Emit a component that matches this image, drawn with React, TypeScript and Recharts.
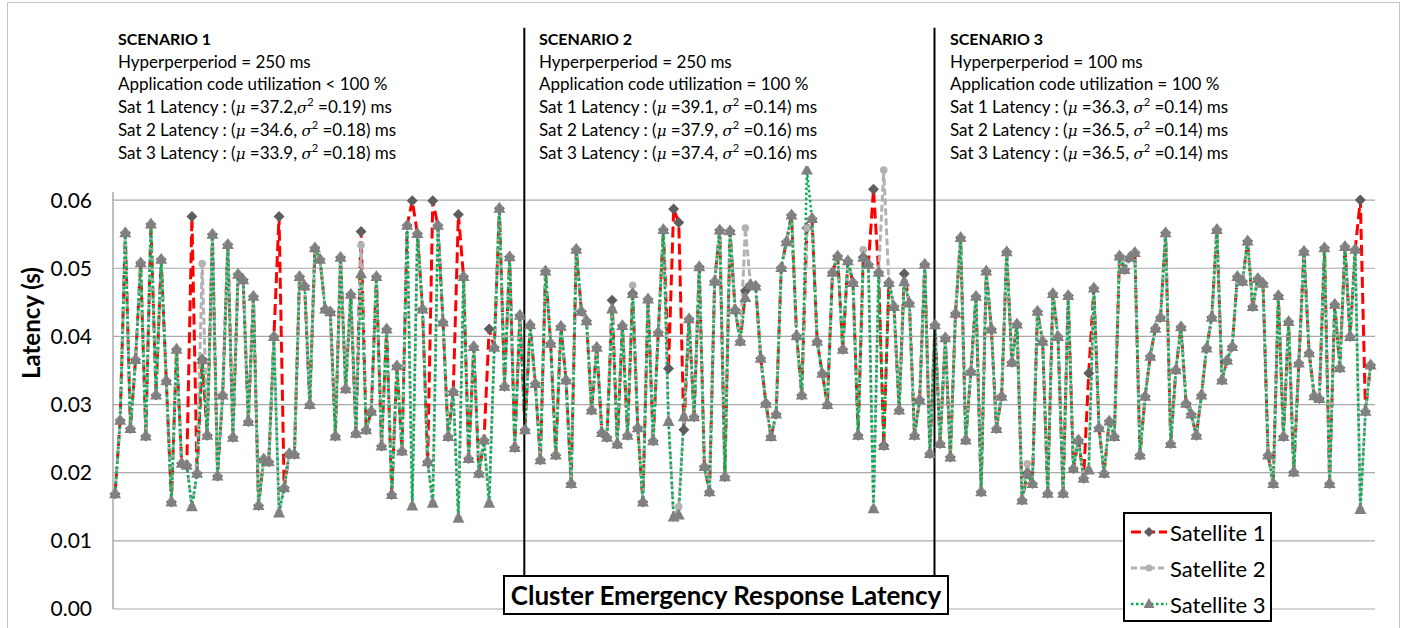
import React from 'react';
import { LineChart, Line, XAxis, YAxis, CartesianGrid, ReferenceLine } from 'recharts';

// latency samples (s), one per emergency event; scenarios split at ~80 / ~160
const sat3 = [
  0.0169, 0.0277, 0.0552, 0.0265, 0.0366, 0.0508, 0.0254, 0.0565, 0.0314, 0.0513,
  0.0335, 0.0157, 0.0381, 0.0214, 0.0211, 0.0150, 0.0199, 0.0366, 0.0255, 0.0550,
  0.0195, 0.0314, 0.0535, 0.0252, 0.0491, 0.0483, 0.0275, 0.0459, 0.0152, 0.0220,
  0.0216, 0.0400, 0.0141, 0.0178, 0.0228, 0.0227, 0.0488, 0.0474, 0.0300, 0.0530,
  0.0513, 0.0440, 0.0436, 0.0254, 0.0516, 0.0323, 0.0462, 0.0258, 0.0492, 0.0263,
  0.0290, 0.0488, 0.0239, 0.0411, 0.0168, 0.0357, 0.0232, 0.0563, 0.0151, 0.0551,
  0.0440, 0.0216, 0.0155, 0.0563, 0.0421, 0.0253, 0.0319, 0.0133, 0.0488, 0.0221,
  0.0385, 0.0199, 0.0248, 0.0155, 0.0384, 0.0588, 0.0327, 0.0517, 0.0237, 0.0431,
  0.0263, 0.0417, 0.0331, 0.0219, 0.0496, 0.0390, 0.0226, 0.0415, 0.0336, 0.0184,
  0.0528, 0.0437, 0.0423, 0.0292, 0.0384, 0.0259, 0.0252, 0.0440, 0.0242, 0.0416,
  0.0255, 0.0463, 0.0266, 0.0157, 0.0455, 0.0247, 0.0406, 0.0557, 0.0275, 0.0135,
  0.0138, 0.0282, 0.0426, 0.0282, 0.0502, 0.0209, 0.0172, 0.0481, 0.0556, 0.0194,
  0.0555, 0.0439, 0.0393, 0.0457, 0.0476, 0.0474, 0.0368, 0.0302, 0.0253, 0.0286,
  0.0501, 0.0539, 0.0578, 0.0401, 0.0314, 0.0644, 0.0573, 0.0393, 0.0346, 0.0300,
  0.0494, 0.0518, 0.0381, 0.0511, 0.0479, 0.0255, 0.0516, 0.0506, 0.0147, 0.0494,
  0.0240, 0.0479, 0.0444, 0.0292, 0.0480, 0.0449, 0.0255, 0.0307, 0.0506, 0.0228,
  0.0417, 0.0243, 0.0398, 0.0223, 0.0434, 0.0545, 0.0248, 0.0349, 0.0459, 0.0172,
  0.0496, 0.0411, 0.0265, 0.0312, 0.0524, 0.0362, 0.0418, 0.0160, 0.0199, 0.0184,
  0.0437, 0.0393, 0.0170, 0.0463, 0.0400, 0.0170, 0.0460, 0.0206, 0.0248, 0.0192,
  0.0204, 0.0471, 0.0266, 0.0199, 0.0276, 0.0253, 0.0518, 0.0498, 0.0516, 0.0523,
  0.0226, 0.0312, 0.0371, 0.0412, 0.0428, 0.0552, 0.0243, 0.0351, 0.0414, 0.0302,
  0.0286, 0.0255, 0.0314, 0.0383, 0.0428, 0.0557, 0.0336, 0.0365, 0.0385, 0.0488,
  0.0481, 0.0540, 0.0444, 0.0485, 0.0478, 0.0226, 0.0184, 0.0460, 0.0253, 0.0422,
  0.0201, 0.0361, 0.0525, 0.0376, 0.0313, 0.0309, 0.0530, 0.0184, 0.0447, 0.0354,
  0.0532, 0.0400, 0.0528, 0.0146, 0.0290, 0.0358,
];

const sat1 = [
  0.0169, 0.0277, 0.0552, 0.0265, 0.0366, 0.0508, 0.0254, 0.0565, 0.0314, 0.0513,
  0.0335, 0.0157, 0.0381, 0.0214, 0.0211, 0.0576, 0.0199, 0.0366, 0.0255, 0.0550,
  0.0195, 0.0314, 0.0535, 0.0252, 0.0491, 0.0483, 0.0275, 0.0459, 0.0152, 0.0220,
  0.0216, 0.0400, 0.0576, 0.0178, 0.0228, 0.0227, 0.0488, 0.0474, 0.0300, 0.0530,
  0.0513, 0.0440, 0.0436, 0.0254, 0.0516, 0.0323, 0.0462, 0.0258, 0.0554, 0.0263,
  0.0290, 0.0488, 0.0239, 0.0411, 0.0168, 0.0357, 0.0232, 0.0563, 0.0599, 0.0551,
  0.0440, 0.0216, 0.0599, 0.0563, 0.0421, 0.0253, 0.0319, 0.0579, 0.0488, 0.0221,
  0.0385, 0.0199, 0.0248, 0.0411, 0.0384, 0.0588, 0.0327, 0.0517, 0.0237, 0.0431,
  0.0263, 0.0417, 0.0331, 0.0219, 0.0496, 0.0390, 0.0226, 0.0415, 0.0336, 0.0184,
  0.0528, 0.0437, 0.0423, 0.0292, 0.0384, 0.0259, 0.0252, 0.0453, 0.0242, 0.0416,
  0.0255, 0.0463, 0.0266, 0.0157, 0.0455, 0.0247, 0.0406, 0.0557, 0.0353, 0.0587,
  0.0567, 0.0263, 0.0426, 0.0282, 0.0502, 0.0209, 0.0172, 0.0481, 0.0556, 0.0194,
  0.0555, 0.0439, 0.0393, 0.0467, 0.0476, 0.0474, 0.0368, 0.0302, 0.0253, 0.0286,
  0.0501, 0.0539, 0.0578, 0.0401, 0.0314, 0.0559, 0.0573, 0.0393, 0.0346, 0.0300,
  0.0494, 0.0518, 0.0381, 0.0511, 0.0479, 0.0255, 0.0516, 0.0506, 0.0616, 0.0494,
  0.0240, 0.0479, 0.0444, 0.0292, 0.0492, 0.0449, 0.0255, 0.0307, 0.0506, 0.0228,
  0.0417, 0.0243, 0.0398, 0.0223, 0.0434, 0.0545, 0.0248, 0.0349, 0.0459, 0.0172,
  0.0496, 0.0411, 0.0265, 0.0312, 0.0524, 0.0362, 0.0418, 0.0160, 0.0199, 0.0184,
  0.0437, 0.0393, 0.0170, 0.0463, 0.0400, 0.0170, 0.0460, 0.0206, 0.0248, 0.0192,
  0.0346, 0.0471, 0.0266, 0.0199, 0.0276, 0.0253, 0.0518, 0.0498, 0.0516, 0.0523,
  0.0226, 0.0312, 0.0371, 0.0412, 0.0428, 0.0552, 0.0243, 0.0351, 0.0414, 0.0302,
  0.0286, 0.0255, 0.0314, 0.0383, 0.0428, 0.0557, 0.0336, 0.0365, 0.0385, 0.0488,
  0.0481, 0.0540, 0.0444, 0.0485, 0.0478, 0.0226, 0.0184, 0.0460, 0.0253, 0.0422,
  0.0201, 0.0361, 0.0525, 0.0376, 0.0313, 0.0309, 0.0530, 0.0184, 0.0447, 0.0354,
  0.0532, 0.0400, 0.0528, 0.0600, 0.0290, 0.0358,
];

const sat2 = [
  0.0169, 0.0277, 0.0552, 0.0265, 0.0366, 0.0508, 0.0254, 0.0565, 0.0314, 0.0513,
  0.0335, 0.0157, 0.0381, 0.0214, 0.0211, 0.0150, 0.0199, 0.0507, 0.0255, 0.0550,
  0.0195, 0.0314, 0.0535, 0.0252, 0.0491, 0.0483, 0.0275, 0.0459, 0.0152, 0.0220,
  0.0216, 0.0400, 0.0141, 0.0178, 0.0228, 0.0227, 0.0488, 0.0474, 0.0300, 0.0530,
  0.0513, 0.0440, 0.0436, 0.0254, 0.0516, 0.0323, 0.0462, 0.0258, 0.0534, 0.0263,
  0.0290, 0.0488, 0.0239, 0.0411, 0.0168, 0.0357, 0.0232, 0.0563, 0.0151, 0.0551,
  0.0440, 0.0216, 0.0155, 0.0563, 0.0421, 0.0253, 0.0319, 0.0133, 0.0488, 0.0221,
  0.0385, 0.0199, 0.0248, 0.0155, 0.0384, 0.0588, 0.0327, 0.0517, 0.0237, 0.0431,
  0.0263, 0.0417, 0.0331, 0.0219, 0.0496, 0.0390, 0.0226, 0.0415, 0.0336, 0.0184,
  0.0528, 0.0437, 0.0423, 0.0292, 0.0384, 0.0259, 0.0252, 0.0440, 0.0242, 0.0416,
  0.0255, 0.0475, 0.0266, 0.0157, 0.0455, 0.0247, 0.0406, 0.0557, 0.0275, 0.0135,
  0.0150, 0.0282, 0.0426, 0.0282, 0.0502, 0.0209, 0.0172, 0.0481, 0.0556, 0.0194,
  0.0555, 0.0439, 0.0393, 0.0559, 0.0476, 0.0474, 0.0368, 0.0302, 0.0253, 0.0286,
  0.0501, 0.0539, 0.0578, 0.0401, 0.0314, 0.0559, 0.0573, 0.0393, 0.0346, 0.0300,
  0.0494, 0.0518, 0.0381, 0.0511, 0.0479, 0.0255, 0.0527, 0.0506, 0.0147, 0.0494,
  0.0644, 0.0479, 0.0444, 0.0292, 0.0480, 0.0449, 0.0255, 0.0307, 0.0506, 0.0228,
  0.0417, 0.0243, 0.0398, 0.0223, 0.0434, 0.0545, 0.0248, 0.0349, 0.0459, 0.0172,
  0.0496, 0.0411, 0.0265, 0.0312, 0.0524, 0.0362, 0.0418, 0.0160, 0.0213, 0.0184,
  0.0437, 0.0393, 0.0170, 0.0463, 0.0400, 0.0170, 0.0460, 0.0206, 0.0248, 0.0192,
  0.0204, 0.0471, 0.0266, 0.0199, 0.0276, 0.0253, 0.0518, 0.0498, 0.0516, 0.0523,
  0.0226, 0.0312, 0.0371, 0.0412, 0.0428, 0.0552, 0.0243, 0.0351, 0.0414, 0.0302,
  0.0286, 0.0255, 0.0314, 0.0383, 0.0428, 0.0557, 0.0336, 0.0365, 0.0385, 0.0488,
  0.0481, 0.0540, 0.0444, 0.0485, 0.0478, 0.0226, 0.0184, 0.0460, 0.0253, 0.0422,
  0.0201, 0.0361, 0.0525, 0.0376, 0.0313, 0.0309, 0.0530, 0.0184, 0.0447, 0.0354,
  0.0532, 0.0400, 0.0528, 0.0146, 0.0290, 0.0358,
];

const yTicks = [0, 0.01, 0.02, 0.03, 0.04, 0.05, 0.06];
const Y_MAX = 0.065;
const scenarioBreaks = [79.86, 159.9];

const scenarios = [
  { name: 'SCENARIO 1', period: '250', util: '< 100 %', mu: ['37.2', '34.6', '33.9'], sig: ['0.19', '0.18', '0.18'] },
  { name: 'SCENARIO 2', period: '250', util: '= 100 %', mu: ['39.1', '37.9', '37.4'], sig: ['0.14', '0.16', '0.16'] },
  { name: 'SCENARIO 3', period: '100', util: '= 100 %', mu: ['36.3', '36.5', '36.5'], sig: ['0.14', '0.14', '0.14'] },
];
const scenarioX = [118, 539, 950];

const data = sat3.map((v, i) => ({ i, s1: sat1[i], s2: sat2[i], s3: v }));

const FONT = 'Lato, "Open Sans", sans-serif';

const diamond = (p: any) => {
  const { cx, cy, index } = p;
  if (cx == null || cy == null) return <g key={index} />;
  return <path key={index} d={`M${cx},${cy - 5.5}L${cx + 5.5},${cy}L${cx},${cy + 5.5}L${cx - 5.5},${cy}Z`} fill="#5e5e5e" />;
};
const circle = (p: any) => {
  const { cx, cy, index } = p;
  if (cx == null || cy == null) return <g key={index} />;
  return <circle key={index} cx={cx} cy={cy} r={3.8} fill="#b2b2b2" />;
};
const triangle = (p: any) => {
  const { cx, cy, index } = p;
  if (cx == null || cy == null) return <g key={index} />;
  return <path key={index} d={`M${cx},${cy - 6.5}L${cx + 6},${cy + 4.5}L${cx - 6},${cy + 4.5}Z`} fill="#808080" />;
};

const Greek = ({ c }: { c: string }) => (
  <span style={{ fontFamily: '"DejaVu Serif", serif', fontStyle: 'italic', fontSize: 15 }}>{c}</span>
);

function ScenarioText({ s, x }: { s: typeof scenarios[number]; x: number }) {
  return (
    <div style={{ position: 'absolute', left: x, top: 28, fontFamily: FONT, fontSize: 17, lineHeight: '22.5px', color: '#000', whiteSpace: 'nowrap' }}>
      <div style={{ fontWeight: 700, fontSize: 16 }}>{s.name}</div>
      <div>Hyperperperiod = {s.period} ms</div>
      <div>Application code utilization {s.util}</div>
      {s.mu.map((m, k) => (
        <div key={k} style={{ height: 22.5 + (k === 0 ? 0.5 : 1) }}>
          Sat {k + 1} Latency : (<Greek c="μ" /> ={m},{s.name === 'SCENARIO 1' && k === 0 ? '' : ' '}<Greek c="σ" />
          <sup style={{ fontSize: 11, lineHeight: 0 }}>2</sup> ={s.sig[k]}) ms
        </div>
      ))}
    </div>
  );
}

function LegendBox() {
  const rows = [
    { label: 'Satellite 1', color: '#ff0000', dash: '10 4', w: 3, mark: 'd' },
    { label: 'Satellite 2', color: '#b2b2b2', dash: '6 3', w: 3, mark: 'c' },
    { label: 'Satellite 3', color: '#00b050', dash: '2.5 2.5', w: 2.5, mark: 't' },
  ];
  return (
    <div style={{ position: 'absolute', left: 1123, top: 512, width: 149, height: 110, boxSizing: 'border-box', border: '2px solid #000', background: '#fff', fontFamily: FONT }}>
      {rows.map((r, k) => (
        <div key={k} style={{ position: 'absolute', left: 5, top: 5 + k * 36, height: 26, display: 'flex', alignItems: 'center' }}>
          <svg width={38} height={20}>
            <line x1={1} y1={10} x2={37} y2={10} stroke={r.color} strokeWidth={r.w} strokeDasharray={r.dash} />
            {r.mark === 'd' && <path d="M19,5L24,10L19,15L14,10Z" fill="#5e5e5e" />}
            {r.mark === 'c' && <circle cx={19} cy={10} r={3.6} fill="#b2b2b2" />}
            {r.mark === 't' && <path d="M19,4L24.5,14L13.5,14Z" fill="#808080" />}
          </svg>
          <span style={{ marginLeft: 2, fontSize: 22, color: '#000' }}>{r.label}</span>
        </div>
      ))}
    </div>
  );
}

export default function App() {
  return (
    <div style={{ position: 'absolute', left: 0, top: 0, width: 1416, height: 628, overflow: 'hidden', background: '#fff' }}>
      <div style={{ position: 'absolute', left: 7, top: 2, width: 1393, height: 700, boxSizing: 'border-box', border: '1.5px solid #c4c4c4' }} />
      <LineChart
        width={1416}
        height={628}
        data={data}
        margin={{ top: 166, right: 41, bottom: 19, left: 53 }}
        style={{ position: 'absolute', left: 0, top: 0, fontFamily: FONT }}
      >
        <CartesianGrid
          vertical={false}
          stroke="#a9a9a9"
          strokeWidth={1.2}
          horizontalCoordinatesGenerator={({ offset }: any) =>
            yTicks.map((t) => offset.top + offset.height * (1 - t / Y_MAX))
          }
        />
        <XAxis type="number" dataKey="i" domain={[-0.4, 245.86]} hide />
        <YAxis
          domain={[0, Y_MAX]}
          allowDataOverflow
          ticks={yTicks}
          interval={0}
          width={60}
          axisLine={false}
          tickLine={false}
          tickSize={0}
          tickMargin={21}
          tickFormatter={(v: number) => v.toFixed(2)}
          tick={{ fill: '#000', fontSize: 21, fontFamily: FONT }}
        />
        <ReferenceLine segment={[{ x: -0.4, y: 0 }, { x: -0.4, y: 0.0612 }]} stroke="#a9a9a9" strokeWidth={1.5} ifOverflow="visible" />
        <Line dataKey="s1" stroke="#ff0000" strokeWidth={3} strokeDasharray="11 5" dot={diamond} activeDot={false} isAnimationActive={false} />
        <Line dataKey="s2" stroke="#b2b2b2" strokeWidth={3} strokeDasharray="7 3" dot={circle} activeDot={false} isAnimationActive={false} />
        <Line dataKey="s3" stroke="#00b050" strokeWidth={2.5} strokeDasharray="2.5 2.5" dot={triangle} activeDot={false} isAnimationActive={false} />
        {scenarioBreaks.map((b) => (
          <ReferenceLine key={b} segment={[{ x: b, y: 0.005 }, { x: b, y: 0.0853 }]} stroke="#000" strokeWidth={2} ifOverflow="visible" />
        ))}
      </LineChart>
      {scenarios.map((s, k) => (
        <ScenarioText key={k} s={s} x={scenarioX[k]} />
      ))}
      <div style={{ position: 'absolute', left: 30, top: 323, transform: 'translate(-50%, -50%) rotate(-90deg)', fontFamily: FONT, fontWeight: 700, fontSize: 24, whiteSpace: 'nowrap', color: '#000' }}>
        Latency (s)
      </div>
      <div style={{ position: 'absolute', left: 503, top: 575, width: 446, height: 40, boxSizing: 'border-box', border: '2px solid #000', background: '#fff', display: 'flex', alignItems: 'center', justifyContent: 'center', fontFamily: FONT, fontWeight: 700, fontSize: 26, color: '#000', whiteSpace: 'nowrap' }}>
        Cluster Emergency Response Latency
      </div>
      <LegendBox />
    </div>
  );
}
